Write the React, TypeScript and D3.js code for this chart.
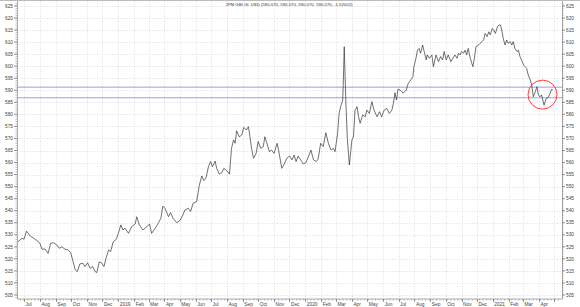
import React, { useEffect, useRef } from "react";
import * as d3 from "d3";

const TITLE = "JPM GBI GL USD (590.070, 590.070, 590.070, 590.070, -1.02002)";
const BASE_DATE = new Date(2018, 6, 1);
// days after 2018-07-01
const dayOffsets = [
  -12, -4, 0, 5, 12, 18, 25, 31, 35, 41, 47, 52, 57, 64, 69, 74, 80, 86, 91, 95, 100, 104, 109, 115, 119, 124, 129, 134, 139, 142,
  147, 152, 156, 160, 165, 169, 174, 180, 184, 189, 193, 197, 204, 210, 217, 220, 225, 232, 240, 245, 249, 256, 262, 267, 271, 275,
  282, 286, 291, 298, 305, 310, 314, 321, 325, 330, 337, 342, 347, 351, 355, 360, 364, 368, 373, 376, 381, 386, 390, 396, 401, 405,
  409, 412, 415, 420, 425, 429, 434, 438, 441, 444, 448, 453, 457, 462, 467, 470, 474, 479, 483, 488, 494, 498, 503, 507, 513, 518,
  523, 527, 531, 535, 540, 545, 550, 555, 560, 565, 570, 574, 579, 584, 589, 594, 599, 604, 607, 612, 615, 618, 622, 623, 625, 628,
  631, 635, 640, 643, 646, 650, 653, 656, 661, 666, 669, 674, 679, 683, 689, 694, 698, 703, 708, 713, 718, 721, 724, 727, 730, 734,
  740, 746, 750, 755, 759, 761, 765, 768, 771, 774, 778, 781, 785, 787, 791, 796, 799, 804, 809, 813, 817, 820, 824, 828, 833, 837,
  841, 845, 848, 851, 854, 858, 861, 864, 867, 871, 874, 876, 879, 882, 887, 890, 894, 897, 900, 904, 907, 910, 914, 917, 920, 924,
  927, 930, 933, 936, 939, 942, 945, 949, 952, 955, 958, 962, 965, 968, 971, 975, 978, 981, 984, 988, 991, 994, 998, 1001, 1004, 1007,
  1010, 1015, 1019, 1023, 1027, 1030, 1032,
];
const closeValues = [
  527.1, 528.5, 528.2, 531.5, 529.5, 528.7, 527.6, 526.5, 524.0, 524.1, 522.3, 526.5, 526.7, 525.8, 524.4, 525.0, 524.0, 523.7, 522.6, 519.5, 515.4, 514.7, 517.9, 518.2, 516.8, 518.4, 516.1, 516.8, 514.7, 514.3,
  518.8, 518.2, 516.8, 520.2, 523.7, 523.0, 527.1, 528.1, 530.6, 534.1, 532.0, 532.7, 530.6, 533.4, 534.5, 537.5, 534.1, 532.0, 533.4, 534.5, 530.6, 532.7, 534.8, 536.8, 541.9, 541.0,
  537.5, 539.2, 536.8, 535.0, 536.1, 538.2, 540.3, 541.0, 539.6, 543.1, 543.8, 550.5, 554.4, 552.5, 553.5, 558.3, 560.4, 558.3, 560.6, 557.6, 555.2, 555.8, 557.6, 556.6, 555.2, 565.9,
  569.4, 568.0, 573.2, 570.7, 571.4, 574.6, 573.5, 574.9, 570.7, 565.9, 561.8, 563.8, 568.7, 565.9, 566.6, 570.7, 568.0, 564.5, 565.2, 563.8, 568.0, 563.8, 557.6, 559.0, 561.8, 562.7,
  561.1, 563.1, 560.4, 562.7, 561.1, 559.4, 559.9, 562.4, 565.2, 561.1, 560.4, 561.4, 568.0, 566.6, 572.4, 568.0, 565.2, 565.9, 564.5, 572.1, 580.4, 583.2, 586.0, 592.0, 608.1, 586.0,
  570.0, 559.0, 569.4, 570.7, 581.8, 583.2, 579.0, 576.3, 579.8, 579.0, 581.8, 580.4, 585.3, 581.8, 579.0, 581.1, 579.0, 581.8, 582.5, 580.4, 581.8, 584.6, 589.0, 586.0, 590.5, 590.1,
  588.8, 590.1, 592.9, 594.3, 595.7, 599.8, 603.3, 606.7, 607.4, 605.4, 608.8, 606.1, 602.6, 604.7, 603.3, 604.7, 599.8, 604.7, 601.9, 604.0, 602.6, 606.1, 602.6, 604.7, 601.9, 603.3,
  604.7, 603.3, 605.4, 604.7, 606.1, 605.4, 606.7, 604.7, 607.4, 603.3, 601.2, 599.8, 603.3, 608.1, 608.8, 609.5, 610.2, 610.9, 613.6, 612.3, 614.3, 613.0, 615.7, 615.0, 613.6, 616.4,
  617.1, 617.1, 614.3, 610.9, 608.8, 610.9, 609.5, 610.2, 608.8, 610.2, 607.4, 606.1, 606.7, 604.0, 602.6, 600.5, 599.8, 599.1, 596.4, 594.3, 592.2, 587.3, 589.4, 591.5, 588.1, 587.3,
  588.1, 583.8, 586.5, 587.0, 588.8, 590.5, 590.07,
];
const levelLines = [591.3, 586.9];
const yTicks = d3.range(505, 626, 5);
const highlight = { day: 1012, value: 588.2 };

const W = 580;
const H = 307;
const L = 17;
const R = 562;
const T = 1;
const B = 299;

export default function App() {
  const ref = useRef<SVGSVGElement>(null);
  useEffect(() => {
    const svg = d3.select(ref.current);
    svg.selectAll("*").remove();
    const toDate = (d: number) => d3.timeDay.offset(BASE_DATE, d);
    const data = dayOffsets.map((d, i) => ({ date: toDate(d), v: closeValues[i] }));
    const x = d3.scaleTime().domain([new Date(2018, 5, 17, 7), new Date(2021, 4, 16)]).range([L, R]);
    const y = d3.scaleLinear().domain([505, 625]).range([295, 6]);

    svg.append("rect").attr("x", 0).attr("y", 0).attr("width", W).attr("height", H).attr("fill", "#fff");
    // grid
    const grid = svg.append("g");
    const months = d3.timeMonth.range(d3.timeMonth.ceil(x.domain()[0]), x.domain()[1]);
    grid.selectAll("line.v").data(months).enter().append("line")
      .attr("x1", (d) => Math.round(x(d)) + 0.5).attr("x2", (d) => Math.round(x(d)) + 0.5)
      .attr("y1", T).attr("y2", B).attr("stroke", "#d8d8d8").attr("stroke-width", 0.8).attr("stroke-dasharray", "1,1.5");
    grid.selectAll("line.h").data(yTicks).enter().append("line")
      .attr("x1", L).attr("x2", R).attr("y1", (d) => Math.round(y(d)) + 0.5).attr("y2", (d) => Math.round(y(d)) + 0.5)
      .attr("stroke", "#d8d8d8").attr("stroke-width", 0.8).attr("stroke-dasharray", "1,1.5");

    // frame
    svg.append("rect").attr("x", L + 0.5).attr("y", 0.5).attr("width", R - L).attr("height", B - 0.5)
      .attr("fill", "none").attr("stroke", "#999").attr("stroke-width", 0.8);
    svg.append("line").attr("x1", 0).attr("x2", W).attr("y1", 0.5).attr("y2", 0.5).attr("stroke", "#bbb");

    // level lines
    svg.selectAll("line.lvl").data(levelLines).enter().append("line")
      .attr("x1", L).attr("x2", R).attr("y1", (d) => y(d)).attr("y2", (d) => y(d))
      .attr("stroke", "#9a9aff").attr("stroke-width", 1);

    // series
    const line = d3.line<{ date: Date; v: number }>().x((d) => x(d.date)).y((d) => y(d.v)).curve(d3.curveLinear);
    svg.append("path").datum(data).attr("d", line).attr("fill", "none").attr("stroke", "#333").attr("stroke-width", 0.7);

    // highlight circle
    svg.append("circle").attr("cx", x(toDate(highlight.day))).attr("cy", y(highlight.value)).attr("r", 14.5)
      .attr("fill", "none").attr("stroke", "#ff3b3b").attr("stroke-width", 1);

    // y axes
    const minor = d3.range(504, 627, 1);
    const axG = svg.append("g");
    axG.selectAll("line.lt").data(minor).enter().append("line")
      .attr("x1", L - 1.5).attr("x2", L).attr("y1", (d) => y(d)).attr("y2", (d) => y(d)).attr("stroke", "#777").attr("stroke-width", 0.5);
    axG.selectAll("line.rt").data(minor).enter().append("line")
      .attr("x1", R).attr("x2", R + 1.5).attr("y1", (d) => y(d)).attr("y2", (d) => y(d)).attr("stroke", "#777").attr("stroke-width", 0.5);
    axG.selectAll("line.lT").data(yTicks).enter().append("line")
      .attr("x1", L - 3).attr("x2", L).attr("y1", (d) => y(d)).attr("y2", (d) => y(d)).attr("stroke", "#555").attr("stroke-width", 0.6);
    axG.selectAll("line.rT").data(yTicks).enter().append("line")
      .attr("x1", R).attr("x2", R + 3).attr("y1", (d) => y(d)).attr("y2", (d) => y(d)).attr("stroke", "#555").attr("stroke-width", 0.6);
    axG.selectAll("text.l").data(yTicks).enter().append("text")
      .attr("x", L - 4).attr("y", (d) => y(d) + 1.7).attr("text-anchor", "end")
      .attr("font-family", "Liberation Sans, Arial, sans-serif").attr("font-size", 4.8).attr("fill", "#444").text((d) => String(d));
    axG.selectAll("text.r").data(yTicks).enter().append("text")
      .attr("x", R + 4).attr("y", (d) => y(d) + 1.7).attr("text-anchor", "start")
      .attr("font-family", "Liberation Sans, Arial, sans-serif").attr("font-size", 4.8).attr("fill", "#444").text((d) => String(d));

    // x axis
    const weeks = d3.timeWeek.range(x.domain()[0], x.domain()[1]);
    axG.selectAll("line.wk").data(weeks).enter().append("line")
      .attr("x1", (d) => x(d)).attr("x2", (d) => x(d)).attr("y1", B).attr("y2", B + 1.5).attr("stroke", "#777").attr("stroke-width", 0.5);
    axG.selectAll("line.mo").data(months).enter().append("line")
      .attr("x1", (d) => Math.round(x(d)) + 0.5).attr("x2", (d) => Math.round(x(d)) + 0.5).attr("y1", B).attr("y2", B + 3)
      .attr("stroke", "#555").attr("stroke-width", 0.6);
    const fmt = (d: Date) => (d.getMonth() === 0 ? d3.timeFormat("%Y")(d) : d3.timeFormat("%b")(d));
    axG.selectAll("text.x").data(months.filter((d) => x(d) < R - 10)).enter().append("text")
      .attr("x", (d) => x(d) + 1.5).attr("y", B + 6.5).attr("text-anchor", "start")
      .attr("font-family", "Liberation Sans, Arial, sans-serif").attr("font-size", 4.8).attr("fill", "#444").text(fmt);

    // title
    svg.append("text").attr("x", 289).attr("y", 5.5).attr("text-anchor", "middle")
      .attr("font-family", "Liberation Sans, Arial, sans-serif").attr("font-size", 4.3).attr("fill", "#333").text(TITLE);
  }, []);
  return (
    <svg ref={ref} width={W} height={H} style={{ position: "absolute", left: 0, top: 0, display: "block" }} />
  );
}
